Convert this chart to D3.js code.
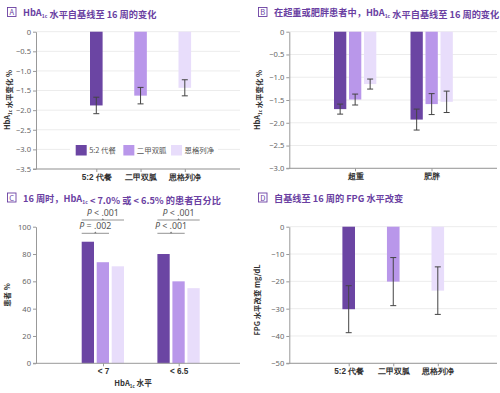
<!DOCTYPE html>
<html>
<head>
<meta charset="utf-8">
<script src="https://cdn.jsdelivr.net/npm/d3@7"></script>
<style>
  body { margin: 0; background: #fff; }
  svg { display: block; font-family: "Noto Sans CJK SC", "Noto Sans", sans-serif; }
</style>
</head>
<body>
<div id="chart"></div>
<script>
// ---- data ----
const series = ["5:2 代餐", "二甲双胍", "恩格列净"];
const colors = ["#6b45a3", "#b997ea", "#e8ddfb"];

// A: HbA1c change from baseline
const aMean = [-1.88, -1.63, -1.43];
const aErr = [0.21, 0.21, 0.205];
const aTicks = [0, -0.5, -1.0, -1.5, -2.0, -2.5, -3.0, -3.5];

// B: by BMI group
const bGroups = ["超重", "肥胖"];
const bOverweight = [-1.70, -1.49, -1.15];
const bOverweightErr = [0.11, 0.12, 0.11];
const bObese = [-1.93, -1.59, -1.54];
const bObeseErr = [0.23, 0.23, 0.235];
const bTicks = [0, -0.5, -1.0, -1.5, -2.0, -2.5, -3.0];

// C: % patients reaching target
const cGroups = ["< 7", "< 6.5"];
const cLt7 = [89, 74, 71];
const cLt65 = [80, 60, 55];
const cTicks = [0, 20, 40, 60, 80, 100];
const cPUpper = ["P < .001", "P < .001"];
const cPLower = ["P = .002", "P < .001"];

// D: FPG change
const dMean = [-30.2, -20.1, -23.4];
const dErr = [8.6, 8.8, 8.7];
const dTicks = [0, -10, -20, -30, -40, -50];

const width = 500, height = 393;
const svg = d3.select("#chart").append("svg")
    .attr("width", width)
    .attr("height", height)
    .attr("viewBox", [0, 0, width, height]);

const purple = "#6a3fa2";
const fmt1 = d => d === 0 ? "0" : d3.format(".1f")(d);
const fmt0 = d => d3.format("d")(d);

// title with boxed letter, supports "HbA1c" subscript via parts
function title(x, y, letter, parts) {
    const g = svg.append("g").attr("transform", `translate(${x},${y})`);
    g.append("rect")
        .attr("x", 0).attr("y", -8.5)
        .attr("width", 8.5).attr("height", 9)
        .attr("fill", "none").attr("stroke", purple).attr("stroke-width", 0.9);
    g.append("text")
        .attr("x", 4.25).attr("y", -1)
        .attr("text-anchor", "middle")
        .attr("font-size", 7.5).attr("fill", purple)
        .text(letter);
    const t = g.append("text")
        .attr("x", 15.5).attr("y", 0)
        .attr("font-size", 9.2).attr("font-weight", 700)
        .attr("fill", purple);
    parts.forEach(p => {
        if (p.sub) {
            t.append("tspan").attr("font-size", 5).attr("dy", 2).text(p.sub);
            t.append("tspan").attr("dy", -2).text("");
        } else {
            t.append("tspan").text(p.t);
        }
    });
}

function yAxis(y, x0, x1, ticks, fmt, grid) {
    if (grid) {
        svg.append("g")
            .selectAll("line")
            .data(ticks)
            .join("line")
            .attr("x1", x0).attr("x2", x1)
            .attr("y1", d => y(d)).attr("y2", d => y(d))
            .attr("stroke", "#ececec").attr("stroke-width", 1);
    }
    svg.append("g")
        .attr("transform", `translate(${x0},0)`)
        .call(d3.axisLeft(y).tickValues(ticks).tickFormat(fmt).tickSize(3).tickSizeOuter(0).tickPadding(2))
        .call(g => g.select(".domain").attr("stroke", "#999"))
        .call(g => g.selectAll(".tick line").attr("stroke", "#999"))
        .call(g => g.selectAll(".tick text")
            .attr("font-size", 7.6).attr("fill", "#666")
            .attr("font-family", "'Noto Sans', sans-serif"));
}

function xAxis(xp, yPos, x0, x1) {
    svg.append("line")
        .attr("x1", x0 - 3).attr("x2", x1)
        .attr("y1", yPos).attr("y2", yPos)
        .attr("stroke", "#999");
    svg.append("g")
        .attr("transform", `translate(0,${yPos})`)
        .call(d3.axisBottom(xp).tickSize(3).tickSizeOuter(0).tickPadding(2))
        .call(g => g.select(".domain").remove())
        .call(g => g.selectAll(".tick line").attr("stroke", "#999"))
        .call(g => g.selectAll(".tick text")
            .attr("font-size", 8.2).attr("font-weight", 700).attr("fill", "#333"));
}

function yLabel(x, yc, parts) {
    const t = svg.append("text")
        .attr("transform", `translate(${x},${yc}) rotate(-90)`)
        .attr("text-anchor", "middle")
        .attr("font-size", 7.4).attr("font-weight", 700).attr("fill", "#333");
    parts.forEach(p => {
        if (p.sub) {
            t.append("tspan").attr("font-size", 4.5).attr("dy", 1.8).text(p.sub);
            t.append("tspan").attr("dy", -1.8).text("");
        } else {
            t.append("tspan").text(p.t);
        }
    });
}

function errorBars(g, data, cx, y) {
    const eb = g.append("g").attr("stroke", "#444").attr("stroke-width", 1);
    eb.selectAll("line.v").data(data).join("line").attr("class", "v")
        .attr("x1", cx).attr("x2", cx)
        .attr("y1", d => y(d.m - d.e)).attr("y2", d => y(d.m + d.e));
    eb.selectAll("line.t").data(data).join("line").attr("class", "t")
        .attr("x1", d => cx(d) - 3).attr("x2", d => cx(d) + 3)
        .attr("y1", d => y(d.m + d.e)).attr("y2", d => y(d.m + d.e));
    eb.selectAll("line.b").data(data).join("line").attr("class", "b")
        .attr("x1", d => cx(d) - 3).attr("x2", d => cx(d) + 3)
        .attr("y1", d => y(d.m - d.e)).attr("y2", d => y(d.m - d.e));
}

const hba = [{ t: "HbA" }, { sub: "1c" }];

// ---------- Panel A ----------
{
    title(7.5, 16, "A", [...hba, { t: " 水平自基线至 16 周的变化" }]);
    const y = d3.scaleLinear().domain([-3.5, 0]).range([169, 31.7]);
    const x = d3.scalePoint().domain(series).range([96.3, 184.8]);
    const x0 = 36, x1 = 240;
    yAxis(y, x0, x1, aTicks, fmt1, true);
    const bw = 12.6;
    const data = series.map((s, i) => ({ s, i, m: aMean[i], e: aErr[i] }));
    const g = svg.append("g");
    g.selectAll("rect").data(data).join("rect")
        .attr("x", d => x(d.s) - bw / 2).attr("width", bw)
        .attr("y", y(0)).attr("height", d => y(d.m) - y(0))
        .attr("fill", d => colors[d.i]);
    errorBars(g, data, d => x(d.s), y);
    xAxis(x, 169, x0, x1);
    yLabel(10, 100, [...hba, { t: " 水平变化 %" }]);

    // legend
    const lg = svg.append("g");
    lg.append("rect").attr("x", 70).attr("y", 143).attr("width", 148).attr("height", 14).attr("fill", "#fff");
    const lx = d3.scalePoint().domain(series).range([75.7, 171]);
    const items = lg.selectAll("g").data(series).join("g")
        .attr("transform", d => `translate(${lx(d)},145)`);
    items.append("rect").attr("width", 11).attr("height", 10.5)
        .attr("fill", (d, i) => colors[i]);
    items.append("text").attr("x", 13.5).attr("y", 8.3)
        .attr("font-size", 7.4).attr("fill", "#555").text(d => d);
}

// ---------- Panel B ----------
{
    title(258.5, 16, "B", [{ t: "在超重或肥胖患者中，" }, ...hba, { t: " 水平自基线至 16 周的变化" }]);
    const y = d3.scaleLinear().domain([-3.0, 0]).range([168.3, 31.7]);
    const xg = d3.scalePoint().domain(bGroups).range([355, 431.5]);
    const xi = d3.scaleBand().domain(series).range([-21, 21.3]).paddingInner(0.18);
    const x0 = 289.3, x1 = 497;
    yAxis(y, x0, x1, bTicks, fmt1, true);
    const vals = [bOverweight, bObese], errs = [bOverweightErr, bObeseErr];
    const data = bGroups.flatMap((gname, gi) =>
        series.map((s, i) => ({ gname, s, i, m: vals[gi][i], e: errs[gi][i] })));
    const g = svg.append("g");
    g.selectAll("rect").data(data).join("rect")
        .attr("x", d => xg(d.gname) + xi(d.s)).attr("width", xi.bandwidth())
        .attr("y", y(0)).attr("height", d => y(d.m) - y(0))
        .attr("fill", d => colors[d.i]);
    errorBars(g, data, d => xg(d.gname) + xi(d.s) + xi.bandwidth() / 2, y);
    xAxis(xg, 168.3, x0, x1);
    yLabel(260, 100, [...hba, { t: " 水平变化 %" }]);
}

// ---------- Panel C ----------
{
    title(7.5, 201.5, "C", [{ t: "16 周时，" }, ...hba, { t: " < 7.0% 或 < 6.5% 的患者百分比" }]);
    const y = d3.scaleLinear().domain([0, 100]).range([363.3, 226.7]);
    const xg = d3.scalePoint().domain(cGroups).range([103, 178.7]);
    const xi = d3.scaleBand().domain(series).range([-21.3, 21]).paddingInner(0.18);
    const x0 = 36, x1 = 240;
    yAxis(y, x0, x1, cTicks, fmt0, false);
    const vals = [cLt7, cLt65];
    const data = cGroups.flatMap((gname, gi) =>
        series.map((s, i) => ({ gname, s, i, v: vals[gi][i] })));
    svg.append("g").selectAll("rect").data(data).join("rect")
        .attr("x", d => xg(d.gname) + xi(d.s)).attr("width", xi.bandwidth())
        .attr("y", d => y(d.v)).attr("height", d => y(0) - y(d.v))
        .attr("fill", d => colors[d.i]);
    xAxis(xg, 363.3, x0, x1);
    yLabel(10, 295, [{ t: "患者 %" }]);
    const xl = svg.append("text")
        .attr("x", 133).attr("y", 386)
        .attr("text-anchor", "middle")
        .attr("font-size", 7.6).attr("font-weight", 700).attr("fill", "#333");
    xl.append("tspan").text("HbA");
    xl.append("tspan").attr("font-size", 4.5).attr("dy", 1.8).text("1c");
    xl.append("tspan").attr("dy", -1.8).text(" 水平");

    // significance brackets
    const brackets = cGroups.flatMap((gname, gi) => [
        { gname, from: series[0], to: series[2], ly: 220, label: cPUpper[gi] },
        { gname, from: series[0], to: series[1], ly: 233.3, label: cPLower[gi] }
    ]);
    const bg = svg.append("g");
    const bx0 = d => xg(d.gname) + xi(d.from);
    const bx1 = d => xg(d.gname) + xi(d.to) + xi.bandwidth();
    bg.selectAll("line").data(brackets).join("line")
        .attr("x1", bx0).attr("x2", bx1)
        .attr("y1", d => d.ly).attr("y2", d => d.ly)
        .attr("stroke", "#888").attr("stroke-width", 0.9);
    bg.selectAll("path").data(brackets).join("path")
        .attr("d", d => {
            const c = (bx0(d) + bx1(d)) / 2;
            return `M${c - 1.3},${d.ly} L${c},${d.ly - 1.8} L${c + 1.3},${d.ly} Z`;
        })
        .attr("fill", "#777");
    const pt = bg.selectAll("text").data(brackets).join("text")
        .attr("x", d => (bx0(d) + bx1(d)) / 2).attr("y", d => d.ly - 4)
        .attr("text-anchor", "middle")
        .attr("font-size", 8.8).attr("fill", "#555")
        .attr("font-family", "'Noto Sans', sans-serif");
    pt.append("tspan").attr("font-style", "italic").text(d => d.label.slice(0, 1));
    pt.append("tspan").text(d => d.label.slice(1));
}

// ---------- Panel D ----------
{
    title(258.5, 201.5, "D", [{ t: "自基线至 16 周的 FPG 水平改变" }]);
    const y = d3.scaleLinear().domain([-50, 0]).range([363.3, 226.7]);
    const x = d3.scalePoint().domain(series).range([348.7, 437.8]);
    const x0 = 289.3, x1 = 497;
    yAxis(y, x0, x1, dTicks, fmt0, true);
    const bw = 12.6;
    const data = series.map((s, i) => ({ s, i, m: dMean[i], e: dErr[i] }));
    const g = svg.append("g");
    g.selectAll("rect").data(data).join("rect")
        .attr("x", d => x(d.s) - bw / 2).attr("width", bw)
        .attr("y", y(0)).attr("height", d => y(d.m) - y(0))
        .attr("fill", d => colors[d.i]);
    errorBars(g, data, d => x(d.s), y);
    xAxis(x, 363.3, x0, x1);
    yLabel(260, 300, [{ t: "FPG 水平改变 mg/dL" }]);
}
</script>
</body>
</html>
